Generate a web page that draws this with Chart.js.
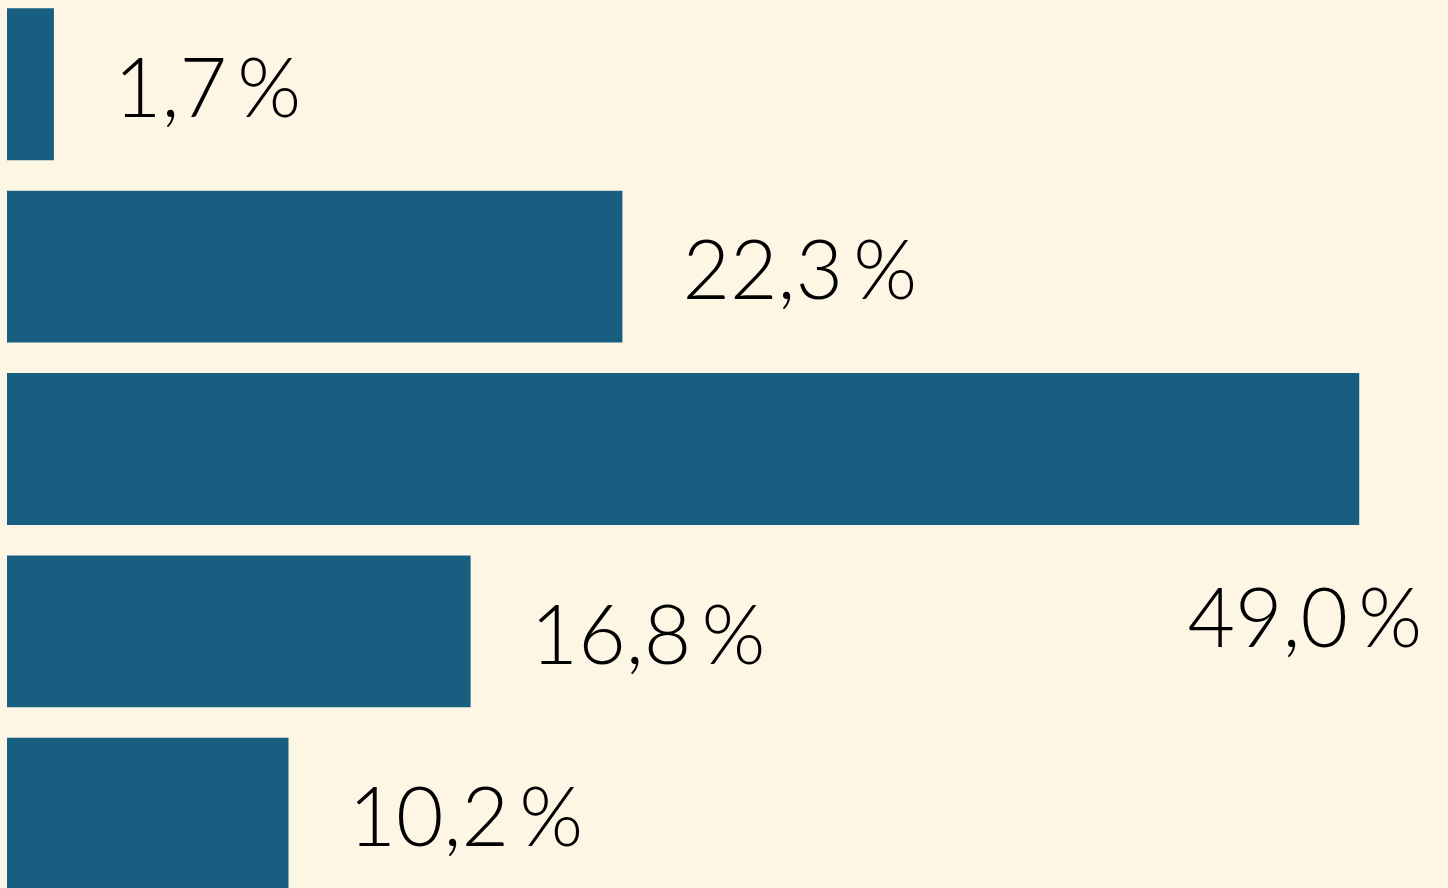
<!DOCTYPE html>
<html>
<head>
<meta charset="utf-8">
<script src="https://cdn.jsdelivr.net/npm/chart.js@4"></script>
<style>
  html, body { margin: 0; padding: 0; background: #fdf6e4; overflow: hidden; }
  #wrap { position: absolute; left: 0; top: -7px; width: 1448px; height: 912px; }
</style>
</head>
<body>
<div id="wrap"><canvas id="barChart"></canvas></div>
<script>
// data
const categories = ['A', 'B', 'C', 'D', 'E'];
const shares = [1.7, 22.3, 49.0, 16.8, 10.2];

const barColor = '#175e80';
const labelFont = '300 82px Lato, "Open Sans", sans-serif';

// value labels next to the bars, the long one goes under its bar
const valueLabels = {
    id: 'valueLabels',
    afterDatasetsDraw(chart) {
        const c = chart.ctx;
        const meta = chart.getDatasetMeta(0);
        c.save();
        c.font = labelFont;
        c.fillStyle = '#000';
        c.textBaseline = 'middle';
        meta.data.forEach((bar, i) => {
            const text = shares[i].toFixed(1).replace('.', ',') + '\u2009%';
            const w = c.measureText(text).width;
            const gap = 60;
            if (bar.x + gap + w > chart.width) {
                c.textAlign = 'right';
                c.fillText(text, bar.x + 63, bar.y + bar.height / 2 + 96);
            } else {
                c.textAlign = 'left';
                c.fillText(text, bar.x + gap, bar.y + 6);
            }
        });
        c.restore();
    }
};

new Chart(document.getElementById('barChart'), {
    type: 'bar',
    data: {
        labels: categories,
        datasets: [{
            data: shares,
            backgroundColor: barColor,
            borderWidth: 0,
            barPercentage: 0.833,
            categoryPercentage: 1
        }]
    },
    options: {
        indexAxis: 'y',
        responsive: true,
        maintainAspectRatio: false,
        animation: false,
        layout: { padding: { left: 7, right: 6, top: 0, bottom: 0 } },
        plugins: { legend: { display: false }, tooltip: { enabled: false } },
        scales: {
            x: { display: false, min: 0, max: 52 },
            y: { display: false }
        }
    },
    plugins: [valueLabels]
});
</script>
</body>
</html>
